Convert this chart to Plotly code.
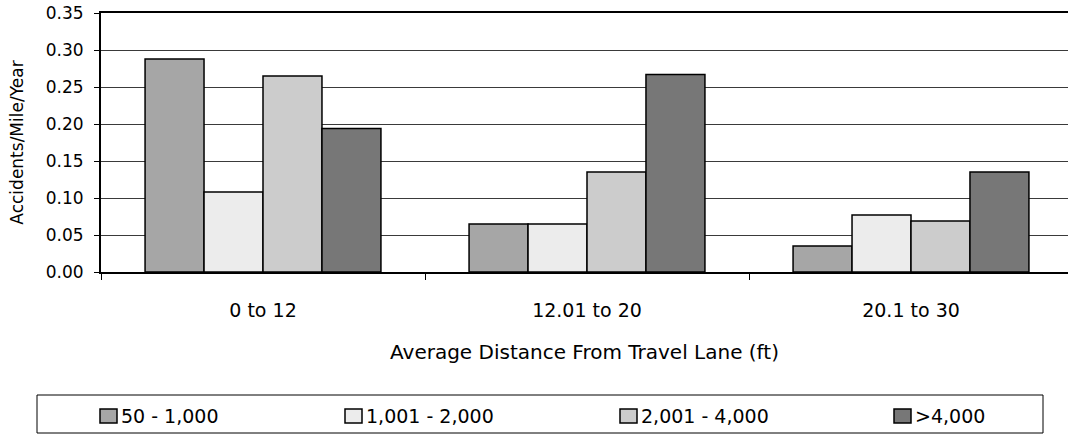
import plotly.graph_objects as go

# Accident rates by average distance from the travel lane, grouped by ADT band
categories = ["0 to 12", "12.01 to 20", "20.1 to 30"]
series_names = ["50 - 1,000", "1,001 - 2,000", "2,001 - 4,000", ">4,000"]
adt_50_1000 = [0.288, 0.065, 0.035]
adt_1001_2000 = [0.108, 0.065, 0.077]
adt_2001_4000 = [0.265, 0.135, 0.069]
adt_over_4000 = [0.194, 0.267, 0.135]
y_ticks = [0.00, 0.05, 0.10, 0.15, 0.20, 0.25, 0.30, 0.35]

series_values = [adt_50_1000, adt_1001_2000, adt_2001_4000, adt_over_4000]
fills = ["#a6a6a6", "#ececec", "#cccccc", "#777777"]

W, H = 1068, 435
M_L, M_R, M_T, M_B = 101, 0, 13, 163
PLOT_W = W - M_L - M_R
PLOT_H = H - M_T - M_B
FONT = "DejaVu Sans"


def px_x(px):
    """Figure pixel column -> paper x."""
    return (px - M_L) / PLOT_W


def px_y(py):
    """Figure pixel row -> paper y."""
    return (H - M_B - py) / PLOT_H


fig = go.Figure()
for name, vals, col in zip(series_names, series_values, fills):
    fig.add_trace(go.Bar(
        x=categories, y=vals, name=name, showlegend=False,
        marker=dict(color=col, line=dict(color="black", width=1.5)),
    ))

# Legend panel below the axis title
shapes = [dict(type="rect", xref="paper", yref="paper",
               x0=px_x(37), x1=px_x(1043), y0=px_y(433), y1=px_y(395),
               line=dict(color="black", width=1), fillcolor="white", layer="above")]
annotations = []
legend_starts = [100, 345, 620, 894]
for name, col, x0 in zip(series_names, fills, legend_starts):
    shapes.append(dict(type="rect", xref="paper", yref="paper",
                       x0=px_x(x0), x1=px_x(x0 + 17), y0=px_y(423), y1=px_y(409),
                       line=dict(color="black", width=1.5), fillcolor=col, layer="above"))
    annotations.append(dict(text=name, xref="paper", yref="paper",
                            x=px_x(x0 + 19), y=px_y(416), xanchor="left", yanchor="middle",
                            showarrow=False, font=dict(family=FONT, size=19, color="black")))

fig.update_layout(
    width=W, height=H,
    margin=dict(l=M_L, r=M_R, t=M_T, b=M_B, pad=0),
    paper_bgcolor="white", plot_bgcolor="white",
    barmode="group", bargap=0.272, bargroupgap=0,
    font=dict(family=FONT, color="black"),
    shapes=shapes, annotations=annotations,
)

fig.update_xaxes(
    type="category", range=[-0.5, 2.5 - 5 / 324],
    showline=True, linecolor="black", linewidth=2, mirror=True,
    ticks="outside", tickson="boundaries", ticklen=6, tickwidth=1, tickcolor="black",
    ticklabelstandoff=20,
    tickfont=dict(family=FONT, size=19, color="black"),
    showgrid=False,
    title=dict(text="Average Distance From Travel Lane (ft)", standoff=25,
               font=dict(family=FONT, size=20, color="black")),
)

fig.update_yaxes(
    range=[0, 0.35], tickvals=y_ticks, tickformat=".2f",
    showline=True, linecolor="black", linewidth=2,
    ticks="outside", ticklen=5, tickwidth=1, tickcolor="black",
    ticklabelstandoff=7,
    tickfont=dict(family=FONT, size=17, color="black"),
    showgrid=True, gridcolor="#3a3a3a", gridwidth=1, zeroline=False,
    title=dict(text="Accidents/Mile/Year", standoff=18,
               font=dict(family=FONT, size=17, color="black")),
)

fig.write_html("out.html")
